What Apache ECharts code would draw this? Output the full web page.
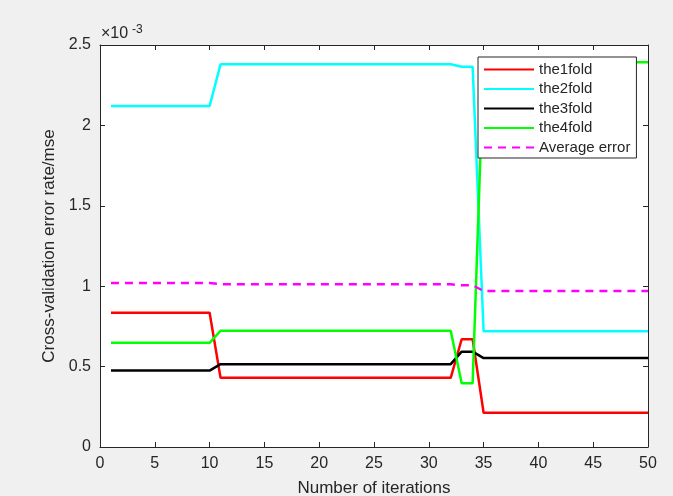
<!DOCTYPE html>
<html>
<head>
<meta charset="utf-8">
<script src="https://cdn.jsdelivr.net/npm/echarts@6/dist/echarts.min.js"></script>
<style>
html,body{margin:0;padding:0;background:#f0f0f0;}
#main{width:673px;height:496px;}
</style>
</head>
<body>
<div id="main"></div>
<script>
// iterations 1..50
var iterations = [];
for (var i = 1; i <= 50; i++) iterations.push(i);

// values are in units of 1e-3
function rep(v, n) { var a = []; for (var k = 0; k < n; k++) a.push(v); return a; }
var the1fold = [].concat(rep(0.835, 10), rep(0.43, 22), [0.67, 0.67], rep(0.213, 16));
var the2fold = [].concat(rep(2.12, 10), rep(2.38, 22), [2.365, 2.365], rep(0.72, 16));
var the3fold = [].concat(rep(0.475, 10), rep(0.515, 22), [0.593, 0.593], rep(0.553, 16));
var the4fold = [].concat(rep(0.648, 10), rep(0.723, 22), [0.396, 0.396], rep(2.392, 16));
var avgError = [].concat(rep(1.02, 10), rep(1.012, 22), [1.006, 1.006], rep(0.97, 16));

var seriesNames = ['the1fold', 'the2fold', 'the3fold', 'the4fold', 'Average error'];
var seriesData = [the1fold, the2fold, the3fold, the4fold, avgError];
var seriesColors = ['#ff0000', '#00ffff', '#000000', '#00ff00', '#ff00ff'];
var xTicks = [0, 5, 10, 15, 20, 25, 30, 35, 40, 45, 50];
var yTicks = [0, 0.5, 1, 1.5, 2, 2.5];

var font = 'Liberation Sans, Arial, Helvetica, sans-serif';
var axisColor = '#262626';

var chart = echarts.init(document.getElementById('main'));

var series = seriesNames.map(function (name, idx) {
  return {
    name: name,
    type: 'line',
    xAxisIndex: 0,
    yAxisIndex: 0,
    symbol: 'none',
    animation: false,
    data: seriesData[idx].map(function (v, j) { return [iterations[j], v]; }),
    lineStyle: { color: seriesColors[idx], width: 2.5, type: idx === 4 ? [8, 6] : 'solid' },
    itemStyle: { color: seriesColors[idx] },
    z: idx === 4 ? 5 : 3
  };
});

function axisCommon(show) {
  return {
    axisLine: { show: true, onZero: false, lineStyle: { color: axisColor, width: 1 } },
    axisTick: { show: true, inside: true, length: 5, lineStyle: { color: axisColor } },
    splitLine: { show: false },
    axisLabel: { show: show, color: axisColor, fontSize: 16, fontFamily: font }
  };
}

var option = {
  backgroundColor: '#f0f0f0',
  animation: false,
  grid: { left: 100, right: 25, top: 45, bottom: 49, show: true, backgroundColor: '#ffffff', borderWidth: 0, containLabel: false, outerBoundsMode: 'none' },
  legend: {
    data: seriesNames,
    orient: 'vertical',
    left: 478,
    top: 57,
    itemWidth: 50,
    itemHeight: 14,
    itemGap: 4.5,
    padding: [5, 6, 3, 5],
    backgroundColor: '#ffffff',
    borderColor: axisColor,
    borderWidth: 1,
    borderRadius: 0,
    itemStyle: { opacity: 0 },
    textStyle: { fontSize: 15, fontFamily: font, color: axisColor, lineHeight: 14 }
  },
  xAxis: [
    Object.assign({
      type: 'value', min: 0, max: 50, interval: 5, position: 'bottom',
      name: 'Number of iterations', nameLocation: 'middle', nameGap: 33,
      nameTextStyle: { fontSize: 17, fontFamily: font, color: axisColor }
    }, axisCommon(true), { axisLabel: { show: true, color: axisColor, fontSize: 16, fontFamily: font, margin: 9 } }),
    Object.assign({ type: 'value', min: 0, max: 50, interval: 5, position: 'top' }, axisCommon(false))
  ],
  yAxis: [
    Object.assign({
      type: 'value', min: 0, max: 2.5, interval: 0.5, position: 'left',
      name: 'Cross-validation error rate/mse', nameLocation: 'middle', nameGap: 35,
      nameTextStyle: { fontSize: 17, fontFamily: font, color: axisColor }
    }, axisCommon(true), {
      axisLabel: {
        show: true, color: axisColor, fontSize: 16, fontFamily: font, margin: 9,
        formatter: function (v) { return String(Math.round(v * 10) / 10); }
      }
    }),
    Object.assign({ type: 'value', min: 0, max: 2.5, interval: 0.5, position: 'right' }, axisCommon(false))
  ],
  graphic: [
    { type: 'text', left: 101, top: 26, style: { text: '×10', fontSize: 16, fontFamily: font, fill: axisColor } },
    { type: 'text', left: 132, top: 24, style: { text: '-3', fontSize: 12, fontFamily: font, fill: axisColor } }
  ],
  series: series
};
chart.setOption(option);
</script>
</body>
</html>
